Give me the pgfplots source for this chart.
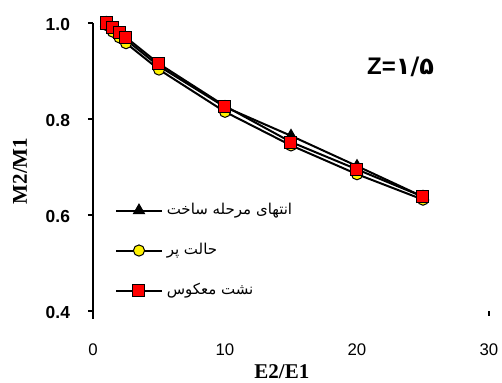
\documentclass[border=0pt]{standalone}
\usepackage{fontspec}
\usepackage{pgfplots}
\pgfplotsset{compat=1.18}
\setmainfont{Liberation Sans}
\newfontfamily\arabicfont[Script=Arabic]{DejaVu Sans}
\newfontfamily\seriffont{Liberation Serif}
\TeXXeTstate=1
\begin{document}
\begin{tikzpicture}
\useasboundingbox (-46.5pt,-36pt) rectangle (204.5pt,155.5pt);
\begin{axis}[
  scale only axis,
  width=198pt, height=144pt,
  xmin=0, xmax=30, ymin=0.4, ymax=1.0,
  clip=false,
  axis y line*=left,
  axis x line*=bottom,
  x axis line style={draw=none},
  y axis line style={line width=0.8pt, shorten <=-4pt},
  xtick={0,10,20,30},
  ytick={0.4,0.6,0.8,1.0},
  tick align=outside,
  major tick length=2.5pt,
  x tick style={draw=none},
  y tick style={line width=0.6pt, black},
  extra x ticks={30}, extra x tick labels={},
  extra x tick style={x tick style={draw=black, line width=0.6pt}},
  /pgf/number format/assume math mode=true,
  /pgf/number format/fixed, /pgf/number format/precision=1,
  /pgf/number format/fixed zerofill,
  yticklabel style={font=\fontsize{8.7}{10}\selectfont\bfseries, xshift=-5.5pt, yshift=-1pt},
  xticklabel style={font=\fontsize{8.4}{10}\selectfont, yshift=-10.5pt, /pgf/number format/fixed zerofill=false, /pgf/number format/precision=0},
  xlabel={E2/E1},
  ylabel={M2/M1},
  xlabel style={font=\seriffont\bfseries\fontsize{10.5}{12}\selectfont, at={(axis description cs:0.477,-0.212)}, anchor=center},
  ylabel style={font=\seriffont\bfseries\fontsize{10.5}{12}\selectfont, at={(axis description cs:-0.184,0.486)}, anchor=center},
  legend style={draw=none, fill=none, at={(axis description cs:0.04,0.403)}, anchor=north west,
    font=\arabicfont\fontsize{7.5}{9}\selectfont, row sep=8.8pt},
  legend cell align=left,
  legend image code/.code={\draw[mark repeat=2,mark phase=2] plot coordinates {(0cm,0cm) (0.4cm,0cm) (0.8cm,0cm)};},
]
\addplot[black, line width=1pt, mark=triangle*, mark size=2.7pt, mark options={fill=black, solid}] coordinates {
 (1,1.0) (1.5,0.985) (2,0.975) (2.5,0.965) (5,0.91) (10,0.825) (15,0.765) (20,0.702) (25,0.638)};
\addlegendentry{\beginR انتهای مرحله ساخت\endR}
\addplot[black, line width=1pt, mark=*, mark size=2.8pt, mark options={fill=yellow, draw=black, line width=0.5pt}] coordinates {
 (1,0.996) (1.5,0.982) (2,0.970) (2.5,0.958) (5,0.903) (10,0.815) (15,0.745) (20,0.685) (25,0.632)};
\addlegendentry{\beginR حالت پر\endR}
\addplot[black, line width=1pt, mark=square*, mark size=3pt, mark options={fill=red, draw=black, line width=0.5pt}] coordinates {
 (1,1.0) (1.5,0.99) (2,0.98) (2.5,0.97) (5,0.915) (10,0.827) (15,0.752) (20,0.695) (25,0.638)};
\addlegendentry{\beginR نشت معکوس\endR}
\node[font=\bfseries\fontsize{12}{14}\selectfont] at (axis cs:23.3,0.908) {Z={\arabicfont\bfseries ۱/۵}};
\end{axis}
\end{tikzpicture}
\end{document}
